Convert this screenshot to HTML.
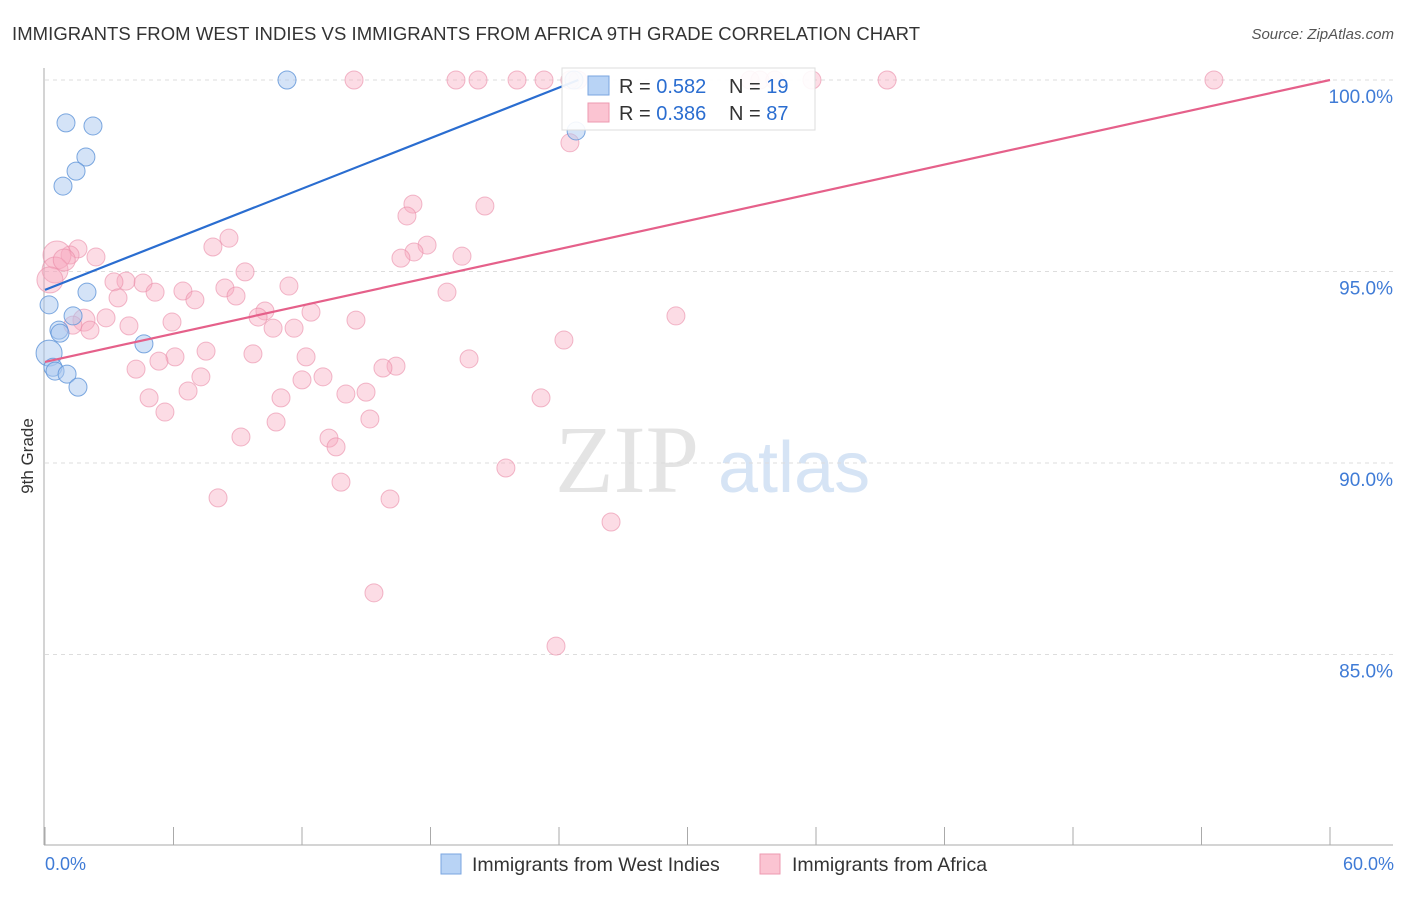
<!DOCTYPE html>
<html><head><meta charset="utf-8"><style>
body{margin:0;background:#fff;font-family:"Liberation Sans",sans-serif}
svg text{font-family:"Liberation Sans",sans-serif}
</style></head><body>
<svg width="1406" height="892" xmlns="http://www.w3.org/2000/svg">
<text x="12" y="40" font-size="18.5" fill="#333" textLength="908">IMMIGRANTS FROM WEST INDIES VS IMMIGRANTS FROM AFRICA 9TH GRADE CORRELATION CHART</text>
<text x="1394" y="39" font-size="15" fill="#555" text-anchor="end" font-style="italic">Source: ZipAtlas.com</text>
<g>
<text x="555" y="492" font-size="96" fill="#e4e4e4" font-family="Liberation Serif" style="font-family:'Liberation Serif',serif">ZIP</text>
<text x="718" y="492" font-size="72" fill="#d6e4f5">atlas</text>
</g>
<g id="grid"></g><g id="axes"></g><g id="pts"></g><g id="lines"></g>
<g>
<rect x="562" y="68" width="253" height="62" fill="#fff" fill-opacity="0.9" stroke="#ddd"/>
<rect x="588" y="76" width="21" height="19" fill="#b8d3f5" stroke="#7aa6e0"/>
<rect x="588" y="103" width="21" height="19" fill="#fbc4d2" stroke="#ee9ab0"/>
<text x="619" y="93" font-size="20" fill="#333">R = <tspan fill="#2a6dd0">0.582</tspan></text>
<text x="729" y="93" font-size="20" fill="#333">N = <tspan fill="#2a6dd0"> 19</tspan></text>
<text x="619" y="120" font-size="20" fill="#333">R = <tspan fill="#2a6dd0">0.386</tspan></text>
<text x="729" y="120" font-size="20" fill="#333">N = <tspan fill="#2a6dd0">87</tspan></text>
</g>
<text transform="translate(33,456) rotate(-90)" font-size="17" fill="#333" text-anchor="middle">9th Grade</text>
<text x="45" y="870" font-size="18" fill="#3f7bd6">0.0%</text>
<text x="1394" y="870" font-size="18" fill="#3f7bd6" text-anchor="end">60.0%</text>
<g>
<rect x="441" y="854" width="20" height="20" fill="#b8d3f5" stroke="#7aa6e0"/>
<text x="472" y="871" font-size="19.5" fill="#333">Immigrants from West Indies</text>
<rect x="760" y="854" width="20" height="20" fill="#fbc4d2" stroke="#ee9ab0"/>
<text x="792" y="871" font-size="19.5" fill="#333">Immigrants from Africa</text>
</g>
</svg>
<script>
const yTicks=[100,95,90,85];
const yTickLabels=["100.0%","95.0%","90.0%","85.0%"];
const xTicks=[0,6,12,18,24,30,36,42,48,54,60];
const blueX=[11.3,0.98,2.24,1.91,1.45,0.84,1.96,0.19,1.31,0.65,0.70,4.62,0.19,0.37,0.47,1.03,1.54,24.8,24.7];
const blueY=[100,98.88,98.8,97.99,97.62,97.23,94.46,94.13,93.84,93.47,93.39,93.11,92.87,92.5,92.4,92.32,91.98,98.67,100];
const blueR=[9,9,9,9,9,9,9,9,9,9,9,9,13,9,9,9,9,9,9];
const pinkX=[14.43,19.19,20.22,22.04,23.30,24.89,32.92,33.38,34.08,35.81,39.32,54.58,24.51,24.51,17.18,16.90,20.54,8.59,7.84,17.84,17.23,16.62,1.54,1.17,0.56,2.38,19.47,9.34,0.47,0.23,11.39,4.58,3.78,3.22,5.14,6.44,8.40,8.92,7.00,3.41,18.77,10.27,12.42,9.95,1.82,2.85,5.93,3.92,2.10,10.65,11.63,14.52,29.46,24.23,7.52,9.71,12.19,6.07,5.32,19.80,4.25,16.39,15.78,7.28,12.00,12.98,6.68,14.05,14.99,4.86,11.02,5.60,23.16,15.17,10.79,9.15,13.26,13.59,21.52,13.82,8.08,16.11,26.43,15.36,23.86,0.9,1.3];
const pinkY=[100,100,100,100,100,100,100,100,100,100,100,100,100,98.36,96.76,96.45,96.71,95.87,95.64,95.69,95.51,95.35,95.59,95.43,95.43,95.38,95.40,94.99,95.04,94.78,94.62,94.70,94.75,94.73,94.46,94.49,94.57,94.36,94.26,94.31,94.46,93.97,93.94,93.81,93.73,93.79,93.68,93.58,93.47,93.52,93.52,93.73,93.84,93.21,92.92,92.85,92.77,92.77,92.66,92.72,92.45,92.53,92.48,92.25,92.17,92.25,91.88,91.80,91.85,91.70,91.70,91.33,91.70,91.15,91.07,90.68,90.65,90.42,89.87,89.50,89.09,89.06,88.46,86.61,85.22,95.3,93.6];
const pinkR=[9,9,9,9,9,9,9,9,9,9,9,9,9,9,9,9,9,9,9,9,9,9,9,9,14,9,9,9,13,13,9,9,9,9,9,9,9,9,9,9,9,9,9,9,11,9,9,9,9,9,9,9,9,9,9,9,9,9,9,9,9,9,9,9,9,9,9,9,9,9,9,9,9,9,9,9,9,9,9,9,9,9,9,9,9,11,9];
const blueLine=[[0,94.52],[24.9,100]];
const pinkLine=[[0,92.64],[60,100]];
const X=v=>45+v/60*1285, Y=v=>80+(100-v)*38.3;
const NS="http://www.w3.org/2000/svg";
function mk(p,t,a){const e=document.createElementNS(NS,t);for(const k in a)e.setAttribute(k,a[k]);document.getElementById(p).appendChild(e);return e;}
yTicks.forEach((v,i)=>{
 const l=mk('grid','line',{x1:45,x2:1393,y1:Y(v),y2:Y(v),stroke:'#ddd','stroke-dasharray':'4,4'});
 
 
 const t=mk('grid','text',{x:1393,y:Y(v)+23,'font-size':19,fill:'#3f7bd6','text-anchor':'end'});
 t.textContent=yTickLabels[i];
 
 
});
const ax=mk('axes','line',{x1:44,x2:44,y1:68,y2:845,stroke:'#aaa'});


const bx=mk('axes','line',{x1:44,x2:1393,y1:845,y2:845,stroke:'#aaa'});


xTicks.forEach(v=>{const t=mk('axes','line',{x1:X(v),x2:X(v),y1:827,y2:845,stroke:'#aaa'});
 
 });
pinkX.forEach((v,i)=>{const c=mk('pts','circle',{cx:X(v),cy:Y(pinkY[i]),r:pinkR[i],fill:'#f7a8bd','fill-opacity':0.4,stroke:'#e98aa6','stroke-opacity':0.6});
 
 });
blueX.forEach((v,i)=>{const c=mk('pts','circle',{cx:X(v),cy:Y(blueY[i]),r:blueR[i],fill:'#a9c8f0','fill-opacity':0.5,stroke:'#5e93d8','stroke-opacity':0.8});
 
 });
const bl=mk('lines','line',{x1:X(blueLine[0][0]),y1:Y(blueLine[0][1]),x2:X(blueLine[1][0]),y2:Y(blueLine[1][1]),stroke:'#2a6dd0','stroke-width':2.2});


const pl=mk('lines','line',{x1:X(pinkLine[0][0]),y1:Y(pinkLine[0][1]),x2:X(pinkLine[1][0]),y2:Y(pinkLine[1][1]),stroke:'#e5608a','stroke-width':2.2});


</script>
</body></html>
